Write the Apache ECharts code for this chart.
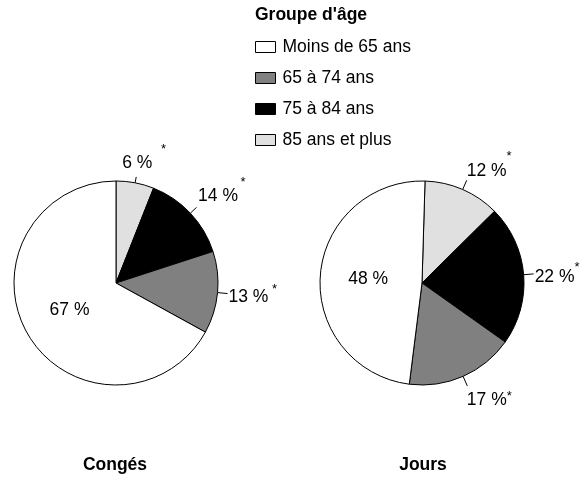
<!DOCTYPE html>
<html><head><meta charset="utf-8">
<script src="https://cdn.jsdelivr.net/npm/echarts@6/dist/echarts.min.js"></script>
<style>html,body{margin:0;padding:0;background:#fff}#c{width:587px;height:477px}</style>
</head><body><div id="c"></div>
<script>
// ---- data (legend order) ----
const groups = ['Moins de 65 ans', '65 à 74 ans', '75 à 84 ans', '85 ans et plus'];
const congesValues = [67, 13, 14, 6];
const joursValues = [48, 17, 22, 12];
const congesStars = [false, true, true, true];
const joursStars = [false, true, true, true];
const pieTitles = ['Congés', 'Jours'];
const legendTitle = "Groupe d'âge";

// ---- styles / layout (kept apart from the data) ----
const FONT = "'Liberation Sans', Arial, sans-serif";
const FS = 17.5;
const groupColors = ['#ffffff', '#808080', '#000000', '#e0e0e0'];
// per pie, per group (legend order): label tweaks
const labelTweaks = [
  [
    {inside: true},
    {len: 10, dist: 1, raise: 10, gap: 3.5, pad: [7, 0, 0, 0]},
    {len: 8.5, dist: 1.5, raise: 16, gap: 2.5, pad: [0, 0, 22, 0]},
    {len: 6, dist: -14, raise: 16, gap: 8.5, pad: [0, 0, 27, 0]}
  ],
  [
    {inside: true},
    {len: 10.5, dist: -0.5, raise: 6.5, gap: 0, pad: [29, 0, 0, 0]},
    {len: 10, dist: 1, raise: 12, gap: 0, pad: [6, 0, 0, 0]},
    {len: 10, dist: 0, raise: 17, gap: 0, pad: [0, 0, 19, 0]}
  ]
];
const pieCenters = [[116, 283], [422, 283]];
const pieStart = [90, 88.3];

function buildSeries(k, values, stars) {
  // drawn clockwise from 12 o'clock: 85+, 75-84, 65-74, <65
  const order = [3, 2, 1, 0];
  const rich = {v: {fontSize: FS, lineHeight: 18, verticalAlign: 'bottom', fontFamily: FONT, color: '#000'}};
  order.forEach(function (g) {
    const t = labelTweaks[k][g];
    rich['s' + g] = {fontSize: 13, lineHeight: 13, verticalAlign: 'bottom', fontFamily: FONT, color: '#000',
      padding: [0, 0, t.raise || 0, t.gap || 0]};
  });
  const data = order.map(function (g) {
    const t = labelTweaks[k][g];
    const item = {
      name: groups[g], value: values[g], grp: g,
      itemStyle: {color: groupColors[g]}
    };
    if (t.inside) {
      item.label = {position: 'inside'};
      item.labelLine = {show: false};
    } else {
      item.label = {position: 'outside', distanceToLabelLine: t.dist, padding: t.pad};
      item.labelLine = {show: true, length: t.len, length2: 0};
    }
    return item;
  });
  return {
    type: 'pie',
    center: pieCenters[k],
    radius: 102,
    startAngle: pieStart[k],
    clockwise: true,
    avoidLabelOverlap: false,
    animation: false,
    itemStyle: {borderColor: '#000', borderWidth: 1},
    emphasis: {disabled: true},
    labelLine: {lineStyle: {color: '#000', width: 1}, smooth: false},
    label: {
      show: true,
      rich: rich,
      formatter: function (p) {
        const g = p.data.grp;
        return '{v|' + p.value + ' %}' + (stars[g] ? '{s' + g + '|*}' : '');
      }
    },
    data: data
  };
}

const chart = echarts.init(document.getElementById('c'), null, {renderer: 'canvas'});
chart.setOption({
  backgroundColor: '#ffffff',
  textStyle: {fontFamily: FONT},
  title: [
    {text: legendTitle, left: 255, top: 6, padding: 0,
      textStyle: {fontFamily: FONT, fontSize: FS, fontWeight: 'bold', color: '#000'}},
    {text: pieTitles[0], left: 115, top: 456, textAlign: 'center', padding: 0,
      textStyle: {fontFamily: FONT, fontSize: FS, fontWeight: 'bold', color: '#000'}},
    {text: pieTitles[1], left: 423, top: 456, textAlign: 'center', padding: 0,
      textStyle: {fontFamily: FONT, fontSize: FS, fontWeight: 'bold', color: '#000'}}
  ],
  legend: {
    orient: 'vertical', left: 255, top: 38, padding: 0,
    itemWidth: 20, itemHeight: 11, itemGap: 13, icon: 'rect',
    selectedMode: false,
    itemStyle: {borderColor: '#000', borderWidth: 1},
    textStyle: {fontFamily: FONT, fontSize: FS, color: '#000', padding: [0, 0, 0, 2]},
    data: groups
  },
  series: [
    buildSeries(0, congesValues, congesStars),
    buildSeries(1, joursValues, joursStars)
  ]
});
</script></body></html>
